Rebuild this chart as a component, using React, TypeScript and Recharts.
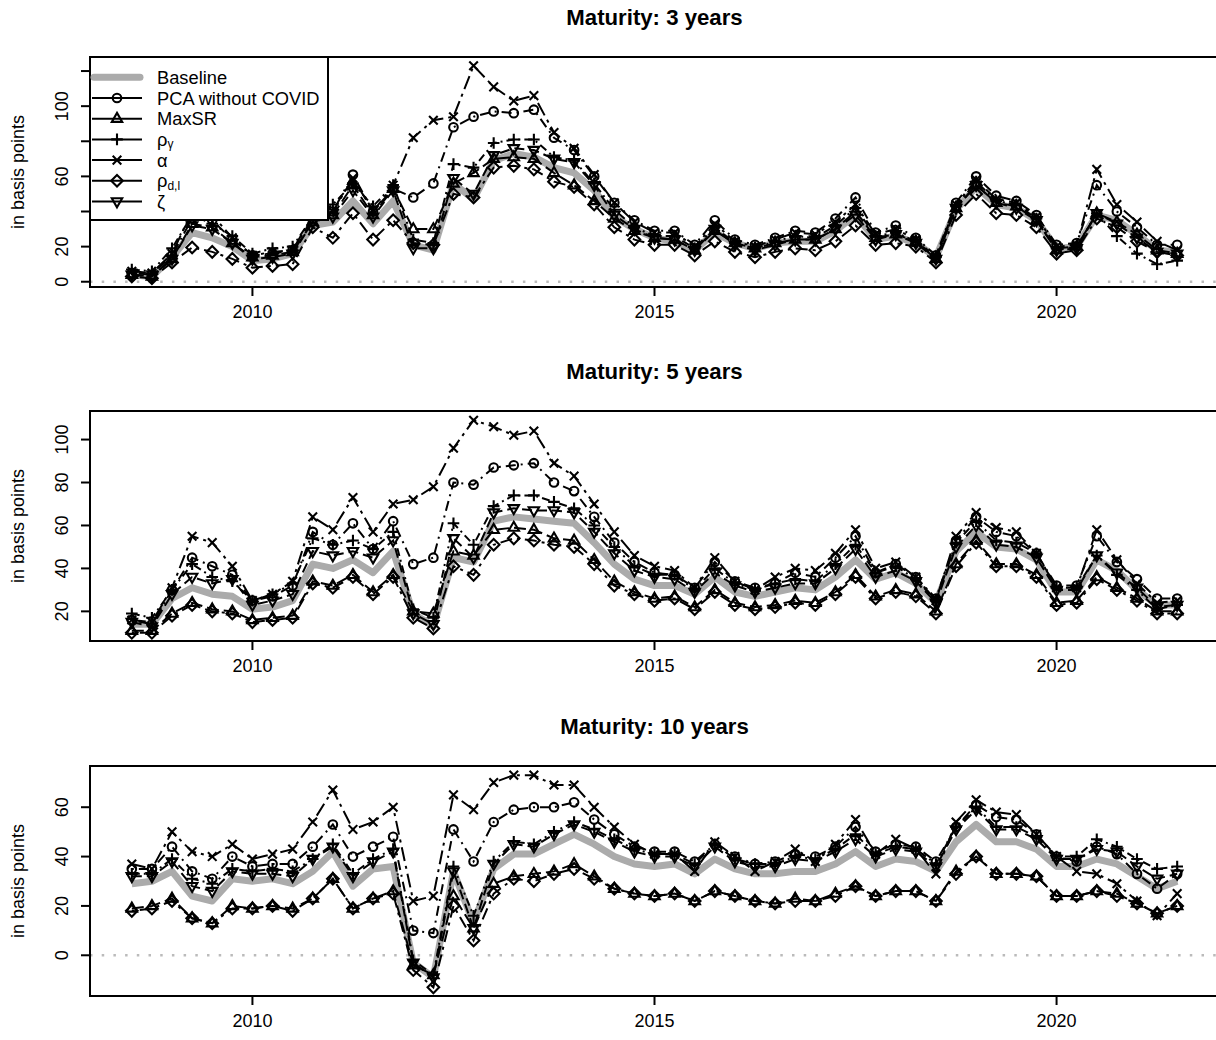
import React from 'react';
import { LineChart, Line, XAxis, YAxis, ReferenceLine } from 'recharts';

const FONT = '"Liberation Sans", Arial, Helvetica, sans-serif';

const quarters = [
  2008.5, 2008.75, 2009, 2009.25, 2009.5, 2009.75, 2010, 2010.25, 2010.5, 2010.75,
  2011, 2011.25, 2011.5, 2011.75, 2012, 2012.25, 2012.5, 2012.75, 2013, 2013.25,
  2013.5, 2013.75, 2014, 2014.25, 2014.5, 2014.75, 2015, 2015.25, 2015.5, 2015.75,
  2016, 2016.25, 2016.5, 2016.75, 2017, 2017.25, 2017.5, 2017.75, 2018, 2018.25,
  2018.5, 2018.75, 2019, 2019.25, 2019.5, 2019.75, 2020, 2020.25, 2020.5, 2020.75,
  2021, 2021.25, 2021.5,
];

// Maturity: 3 years
const m3Baseline = [4,3,14,28,25,20,12,13,16,32,34,46,33,46,21,18,56,47,69,73,71,65,62,52,37,30,25,23,18,28,22,19,22,23,23,29,38,24,26,22,14,41,54,44,42,35,19,20,38,35,27,18,17];
const m3Pca = [5,4,15,36,35,24,15,16,18,36,40,61,40,53,48,56,88,94,97,96,98,82,75,60,45,35,29,29,21,35,24,21,25,29,28,36,48,28,32,25,15,45,60,49,46,38,21,22,55,40,31,21,21];
const m3MaxSR = [4,3,13,33,31,22,14,15,17,34,38,55,38,53,30,30,56,62,70,71,70,62,55,46,36,29,25,24,18,29,22,19,22,24,24,30,40,25,27,23,13,42,55,45,43,35,18,20,39,34,27,18,16];
const m3RhoGamma = [7,6,19,38,33,26,16,19,20,37,44,56,43,55,24,22,67,65,79,81,81,71,69,56,41,31,26,26,19,31,22,19,23,26,25,32,42,26,28,23,14,43,57,46,44,36,19,20,39,26,16,10,12];
const m3Alpha = [6,5,16,40,38,25,15,17,18,38,40,59,40,55,82,92,94,123,111,103,106,85,76,61,45,34,28,28,20,33,23,20,24,28,27,34,44,27,30,24,14,44,58,47,45,37,20,21,64,44,34,23,18];
const m3RhoDl = [3,2,11,19.5,17,13,8,9,10,31,25,39,24,35,22,21,50,48,65,66,64,57,54,44,31,24,21,21,15,23,17,14,17,19,18,23,32,21,22,20,11,38,50,39,38,31,16,18,36,31,23,17,15];
const m3Zeta = [4,3,13,32,30,22,13,14,16,34,37,52,37,52,19,19,59,50,72,76,75,70,68,55,38,30,25,24,18,30,21,18,21,24,24,30,38,24,27,22,13,42,55,45,42,35,18,19,39,33,25,17,16];

// Maturity: 5 years
const m5Baseline = [14,14,26,31,28,27,21,22,25,42,40,44,38,48,19,13,45,43,62,64,63,62,61,52,42,35,32,32,28,36,29,27,29,31,30,36,44,35,38,33,24,48,57,50,49,44,29,29,44,39,30,23,23];
const m5Pca = [16,14,30,45,41,37,25,27,32,57,51,61,49,62,42,45,80,79,87,88,89,80,76,64,52,43,38,37,31,43,34,31,33,38,36,45,55,38,42,36,26,53,64,57,55,47,32,32,55,43,35,26,26];
const m5MaxSR = [11,11,19,24,21,20,16,17,18,34,32,37,29,37,20,19,48,46,58,59,58,54,53,44,34,29,26,27,22,30,24,22,23,25,24,29,37,27,30,28,20,42,53,42,42,37,24,25,36,31,26,20,20];
const m5RhoGamma = [19,17,30,42,36,34,25,28,33,54,51,53,49,57,21,17,61,51,69,74,74,71,68,60,50,41,37,37,30,40,33,30,33,35,34,42,51,38,41,35,25,52,62,53,52,47,31,31,46,37,30,21,23];
const m5Alpha = [16,15,31,55,52,41,25,28,34,64,58,73,57,70,72,78,96,109,106,102,104,89,83,70,57,46,41,39,31,45,34,30,36,40,39,47,58,40,43,36,25,55,66,59,57,47,31,31,58,44,33,24,25];
const m5RhoDl = [10,10,18,23,20,19,15,16,17,33,31,36,28,36,17,12,41,37,51,54,53,51,50,42,32,28,25,26,21,29,23,21,22,24,23,28,36,26,29,27,19,41,52,41,41,36,23,24,35,30,25,19,19];
const m5Zeta = [15,13,28,36,33,35,23,25,28,48,46,48,45,53,19,14,54,45,66,68,67,67,66,57,47,39,36,35,29,38,32,29,31,33,33,40,49,36,39,34,24,50,60,51,50,45,30,30,46,38,31,22,23];

// Maturity: 10 years
const m10Baseline = [29,30,34,24,22,31,30,31,29,34,42,28,35,36,-3,-9,34,13,35,41,41,45,49,45,40,37,36,37,33,39,35,33,33,34,34,37,42,36,39,38,34,46,53,46,46,43,36,36,39,37,32,27,30];
const m10Pca = [35,35,44,34,31,40,36,37,37,44,53,40,44,48,10,9,51,38,54,59,60,60,62,55,49,44,42,42,38,45,40,37,38,41,40,44,52,42,45,44,38,52,61,56,55,49,40,38,44,41,33,27,33];
const m10MaxSR = [19,20,23,15,13,20,19,20,19,23,31,19,23,26,-4,-8,24,11,29,32,33,34,37,32,27,25,24,25,22,26,24,22,21,23,22,25,28,24,26,26,22,34,40,33,33,32,24,24,26,25,21,17,20];
const m10RhoGamma = [33,33,39,31,29,35,34,35,34,39,45,33,39,43,-2,-8,36,16,38,46,45,50,54,51,47,43,41,41,37,45,39,37,37,40,39,43,49,41,44,43,37,52,60,52,52,48,40,40,47,44,39,35,36];
const m10Alpha = [37,35,50,42,40,45,39,41,43,54,67,51,54,60,22,24,65,59,70,73,73,69,69,60,52,45,41,41,34,46,40,34,38,43,38,45,55,41,47,43,33,54,63,58,57,49,40,34,33,29,22,16,25];
const m10RhoDl = [18,19,22,15,13,19,19,20,18,23,31,19,23,25,-6,-13,20,6,25,31,30,33,35,31,27,25,24,25,22,26,24,22,21,22,22,24,28,24,26,26,22,33,40,33,33,32,24,24,26,24,21,17,20];
const m10Zeta = [32,32,38,28,26,34,33,33,32,39,44,32,38,42,-3,-9,34,11,37,45,44,49,53,50,46,42,40,40,36,44,38,36,36,39,38,42,47,40,43,42,36,51,59,51,51,47,39,39,43,42,36,31,33];

const xTicks = [2010, 2015, 2020];

type Shape = 'circle' | 'up' | 'plus' | 'cross' | 'diamond' | 'down';

const series: { key: string; shape: Shape; dash: string }[] = [
  { key: 'pca', shape: 'circle', dash: '2 5 10 5' },
  { key: 'maxsr', shape: 'up', dash: '12 5' },
  { key: 'rhoGamma', shape: 'plus', dash: '8 4 2 4' },
  { key: 'alpha', shape: 'cross', dash: '14 5 3 5' },
  { key: 'rhoDl', shape: 'diamond', dash: '3 5 12 5' },
  { key: 'zeta', shape: 'down', dash: '10 5' },
];

const Marker = ({ cx, cy, shape }: { cx: number; cy: number; shape: Shape }) => {
  const s = { fill: 'none', stroke: '#000', strokeWidth: 2.1 };
  switch (shape) {
    case 'circle':
      return <circle cx={cx} cy={cy} r={4.3} {...s} />;
    case 'up':
      return <path d={`M${cx},${cy - 5.8}L${cx + 5.2},${cy + 3.2}L${cx - 5.2},${cy + 3.2}Z`} {...s} />;
    case 'down':
      return <path d={`M${cx},${cy + 5.8}L${cx + 5.2},${cy - 3.2}L${cx - 5.2},${cy - 3.2}Z`} {...s} />;
    case 'plus':
      return <path d={`M${cx - 5.8},${cy}H${cx + 5.8}M${cx},${cy - 5.8}V${cy + 5.8}`} {...s} />;
    case 'cross':
      return <path d={`M${cx - 4.3},${cy - 4.3}L${cx + 4.3},${cy + 4.3}M${cx - 4.3},${cy + 4.3}L${cx + 4.3},${cy - 4.3}`} {...s} />;
    default:
      return <path d={`M${cx},${cy - 5.8}L${cx + 5.8},${cy}L${cx},${cy + 5.8}L${cx - 5.8},${cy}Z`} {...s} />;
  }
};

const buildRows = (base: number[], pca: number[], maxsr: number[], rg: number[], al: number[], rd: number[], ze: number[]) =>
  quarters.map((t, i) => ({
    t, base: base[i], pca: pca[i], maxsr: maxsr[i], rhoGamma: rg[i], alpha: al[i], rhoDl: rd[i], zeta: ze[i],
  }));

const PLOT_TOP = 50;
const PLOT_H = 230;
const PLOT_LEFT = 90;
const PLOT_RIGHT = 1219;

const Legend = () => {
  const rows: { label: React.ReactNode; shape?: Shape }[] = [
    { label: 'Baseline' },
    { label: 'PCA without COVID', shape: 'circle' },
    { label: 'MaxSR', shape: 'up' },
    { label: <>ρ<tspan dy={5} fontSize={12}>γ</tspan></>, shape: 'plus' },
    { label: 'α', shape: 'cross' },
    { label: <>ρ<tspan dy={5} fontSize={12}>d,l</tspan></>, shape: 'diamond' },
    { label: 'ζ', shape: 'down' },
  ];
  return (
    <g>
      <rect x={PLOT_LEFT} y={PLOT_TOP} width={238} height={163} fill="#fff" stroke="#000" strokeWidth={2} />
      {rows.map((r, i) => {
        const y = PLOT_TOP + 20.3 + i * 20.7;
        return (
          <g key={i}>
            {r.shape ? (
              <>
                <line x1={92} x2={142} y1={y} y2={y} stroke="#000" strokeWidth={2} />
                <Marker cx={117} cy={y} shape={r.shape} />
              </>
            ) : (
              <line x1={94} x2={140} y1={y} y2={y} stroke="#ABABAB" strokeWidth={7} strokeLinecap="round" />
            )}
            <text x={157} y={y} dominantBaseline="central" fontSize={18.3} fontFamily={FONT}>{r.label}</text>
          </g>
        );
      })}
    </g>
  );
};

interface PanelProps {
  title: string;
  top: number;
  rows: any[];
  domain: [number, number];
  ticks: number[];
  labelled: number[];
  zero: boolean;
  legend?: boolean;
}

const Panel = ({ title, top, rows, domain, ticks, labelled, zero, legend }: PanelProps) => {
  const xTick = (p: any) => (
    <text x={p.x} y={PLOT_TOP + PLOT_H + 31} textAnchor="middle" fontSize={18} fontFamily={FONT} fill="#000">
      {p.payload.value}
    </text>
  );
  const yTick = (p: any) =>
    labelled.includes(p.payload.value) ? (
      <text x={62} y={p.y} transform={`rotate(-90 62 ${p.y})`} textAnchor="middle" dominantBaseline="central"
        fontSize={18} fontFamily={FONT} fill="#000">
        {p.payload.value}
      </text>
    ) : (
      <g />
    );
  return (
    <div style={{ position: 'absolute', left: 0, top, width: 1240, height: 340 }}>
      <LineChart width={1240} height={340} data={rows} margin={{ top: PLOT_TOP, right: 1240 - PLOT_RIGHT, bottom: 0, left: 10 }}>
        <XAxis dataKey="t" type="number" domain={[2007.98, 2022.02]} ticks={xTicks} interval={0}
          allowDataOverflow axisLine={false} tickLine={{ stroke: '#000', strokeWidth: 2 }} tickSize={9}
          height={60} tick={xTick} />
        <YAxis type="number" domain={domain} ticks={ticks} interval={0} allowDataOverflow width={80}
          axisLine={false} tickLine={{ stroke: '#000', strokeWidth: 2 }} tickSize={9} tick={yTick} />
        {zero && <ReferenceLine y={0} stroke="#BBBBBB" strokeWidth={2.5} strokeDasharray="2.5 9.2" />}
        <Line dataKey="base" stroke="#ABABAB" strokeWidth={7} strokeLinejoin="round" dot={false}
          activeDot={false} isAnimationActive={false} />
        {series.map((s) => (
          <Line key={s.key} dataKey={s.key} stroke="#000" strokeWidth={2} strokeDasharray={s.dash}
            activeDot={false} isAnimationActive={false}
            dot={(p: any) => <Marker key={`${s.key}-${p.index}`} cx={p.cx} cy={p.cy} shape={s.shape} />} />
        ))}
      </LineChart>
      <svg width={1240} height={340} style={{ position: 'absolute', left: 0, top: 0, overflow: 'visible', pointerEvents: 'none' }}>
        <rect x={PLOT_LEFT} y={PLOT_TOP} width={PLOT_RIGHT - PLOT_LEFT} height={PLOT_H} fill="none" stroke="#000" strokeWidth={2} />
        <text x={(PLOT_LEFT + PLOT_RIGHT) / 2} y={PLOT_TOP - 32.3} textAnchor="middle" fontSize={22.2} fontWeight="bold" fontFamily={FONT}>
          {title}
        </text>
        <text x={18} y={PLOT_TOP + PLOT_H / 2} transform={`rotate(-90 18 ${PLOT_TOP + PLOT_H / 2})`} textAnchor="middle"
          dominantBaseline="central" fontSize={18} fontFamily={FONT}>
          in basis points
        </text>
        {legend && <Legend />}
      </svg>
    </div>
  );
}

export default function App() {
  const rows3 = buildRows(m3Baseline, m3Pca, m3MaxSR, m3RhoGamma, m3Alpha, m3RhoDl, m3Zeta);
  const rows5 = buildRows(m5Baseline, m5Pca, m5MaxSR, m5RhoGamma, m5Alpha, m5RhoDl, m5Zeta);
  const rows10 = buildRows(m10Baseline, m10Pca, m10MaxSR, m10RhoGamma, m10Alpha, m10RhoDl, m10Zeta);
  return (
    <div style={{ position: 'absolute', left: 0, top: 0, width: 1216, height: 1040, overflow: 'hidden', background: '#fff' }}>
      <Panel title="Maturity: 3 years" top={7} rows={rows3} domain={[-3, 128]}
        ticks={[0, 20, 40, 60, 80, 100, 120]} labelled={[0, 20, 60, 100]} zero legend />
      <Panel title="Maturity: 5 years" top={361} rows={rows5} domain={[6.2, 113.3]}
        ticks={[20, 40, 60, 80, 100]} labelled={[20, 40, 60, 80, 100]} zero={false} />
      <Panel title="Maturity: 10 years" top={716} rows={rows10} domain={[-16.5, 76.7]}
        ticks={[0, 20, 40, 60]} labelled={[0, 20, 40, 60]} zero />
    </div>
  );
}
